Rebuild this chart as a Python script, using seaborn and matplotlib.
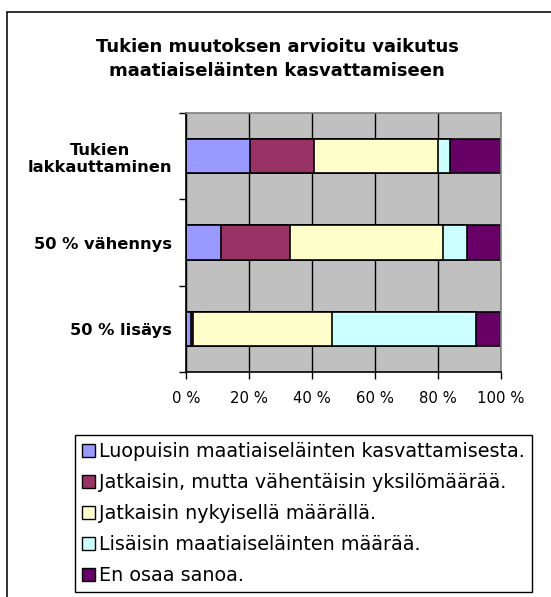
#!/usr/bin/env python3
"""Stacked 100 % bar chart: effect of subsidy changes on native-breed keeping."""

import numpy as np
import pandas as pd
import matplotlib
matplotlib.use('Agg')
import matplotlib.pyplot as plt
import seaborn as sns
from matplotlib.patches import Patch, Rectangle
from matplotlib.ticker import FixedLocator, PercentFormatter

# --- data (percent of answers) ---
CATEGORIES = ['Tukien\nlakkauttaminen', '50 % vähennys', '50 % lisäys']
SERIES = [
    'Luopuisin maatiaiseläinten kasvattamisesta.',
    'Jatkaisin, mutta vähentäisin yksilömäärää.',
    'Jatkaisin nykyisellä määrällä.',
    'Lisäisin maatiaiseläinten määrää.',
    'En osaa sanoa.',
]
luopuisin = [20.3, 11.2, 1.5]
vahentaisin = [20.4, 21.9, 0.8]
nykyisella = [39.4, 48.5, 43.9]
lisaisin = [3.7, 7.5, 46.0]
en_osaa = [16.2, 10.9, 7.8]
COLORS = ['#9999FF', '#993366', '#FFFFCC', '#CCFFFF', '#660066']
X_TICKS = [0, 20, 40, 60, 80, 100]

sns.set_theme(style='white')
plt.rcParams['font.family'] = ['DejaVu Sans']
plt.rcParams['text.color'] = 'black'
plt.rcParams['xtick.color'] = 'black'
plt.rcParams['ytick.color'] = 'black'

W, H = 551, 597
fig = plt.figure(figsize=(W / 100, H / 100), dpi=100)
fig.patch.set_facecolor('white')

# chart area border (only top and left are inside the picture)
fig.add_artist(Rectangle((6.5 / W, -0.1), 1.2, (H - 11.5) / H + 0.1,
                         transform=fig.transFigure, fill=False,
                         edgecolor='#202020', lw=1.3))

fig.text(277 / W, 1 - 59 / H,
         'Tukien muutoksen arvioitu vaikutus\nmaatiaiseläinten kasvattamiseen',
         ha='center', va='center', fontsize=13, fontweight='bold',
         linespacing=1.5, color='black')

ax = fig.add_axes([186 / W, 1 - 372 / H, (501 - 186) / W, (372 - 113) / H])
ax.set_facecolor('#C0C0C0')

df = pd.DataFrame({'kategoria': CATEGORIES})
stack = np.cumsum(np.array([luopuisin, vahentaisin, nykyisella, lisaisin, en_osaa]), axis=0)

# draw cumulative layers from the longest to the shortest
for i in range(len(SERIES) - 1, -1, -1):
    df['arvo'] = stack[i]
    sns.barplot(data=df, x='arvo', y='kategoria', order=CATEGORIES,
                color=COLORS[i], saturation=1, width=0.4,
                edgecolor='black', linewidth=1.2, orient='h', ax=ax)

ax.set_xlim(0, 100)
ax.set_ylim(2.5, -0.5)
ax.set_axisbelow(True)
ax.xaxis.set_major_locator(FixedLocator(X_TICKS))
ax.xaxis.set_major_formatter(PercentFormatter(decimals=0, symbol=' %'))
ax.xaxis.grid(True, color='black', lw=1)
ax.yaxis.grid(False)
ax.set_xlabel('')
ax.set_ylabel('')

ax.tick_params(axis='x', which='major', direction='out', length=5, width=1,
               color='black', labelcolor='black', labelsize=10.7, pad=9, bottom=True)
ax.tick_params(axis='y', which='major', length=0, labelsize=11.7, pad=10,
               labelcolor='black')
ax.yaxis.set_minor_locator(FixedLocator([-0.5, 0.5, 1.5, 2.5]))
ax.tick_params(axis='y', which='minor', direction='out', length=5, width=1,
               color='black', left=True)
for lab in ax.get_yticklabels():
    lab.set_fontweight('bold')
    lab.set_multialignment('center')

for side in ['left', 'bottom']:
    ax.spines[side].set_color('black')
    ax.spines[side].set_linewidth(1.2)
for side in ['top', 'right']:
    ax.spines[side].set_color('#808080')
    ax.spines[side].set_linewidth(1.2)

handles = [Patch(facecolor=c, edgecolor='black', lw=1) for c in COLORS]
leg = fig.legend(handles, SERIES, loc='upper left',
                 bbox_to_anchor=(75 / W, 1 - 435 / H), fontsize=13.8,
                 frameon=True, fancybox=False, edgecolor='black', framealpha=1,
                 handlelength=0.68, handleheight=0.68, handletextpad=0.2,
                 labelspacing=0.62, borderpad=0.38, borderaxespad=0)
for t in leg.get_texts():
    t.set_color('black')

plt.savefig('out.png', dpi=100)
plt.close()
